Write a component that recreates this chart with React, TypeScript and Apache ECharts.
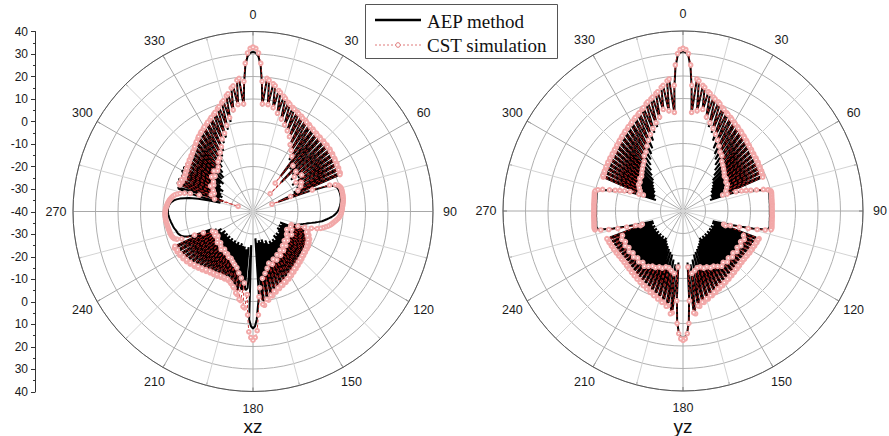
import React, { useEffect, useRef } from 'react';
import * as echarts from 'echarts';

// angle tick labels (degrees, clockwise from top)
const angleLabels = [0, 30, 60, 90, 120, 150, 180, 210, 240, 270, 300, 330];
const chartTitles = ['xz', 'yz'];
const legendNames = ['AEP method', 'CST simulation'];

// values in dB, one value per degree (index = angle 0..359)
const xzAep = [
  31, 30.5, 29, 25, 17, 7, 19, 18.2, 7, 17,
  16.3, 6, 14.6, 13.9, 4, 12.6, 12, 2, 10.6, 10,
  0, 9.1, 8.6, -2, 8.1, 7.6, -4, 7.1, 6.6, -7,
  6.4, 5.9, -9, 5.6, 5.1, -12, 4.9, 4.5, -20, 4.4,
  4, -15, 4.1, 3.7, -22, 3.9, 3.6, -16, 3.8, 3.4,
  -18, 3.6, 3.2, -15, 3.3, 2.9, -19, 2.9, 2.6, -17,
  2.6, 2.2, -18, 2.3, 1.9, -20, 2, 1.5, -24, -28,
  -14, -6, -3, -1.8, -1.2, -0.9, -0.7, -0.6, -0.5, -0.5,
  -0.5, -0.5, -0.6, -0.7, -0.8, -1, -1.2, -1.4, -1.7, -2,
  -2.4, -2.9, -3.5, -4.2, -5, -6, -7, -8, -9, -10.5,
  -12, -13.5, -15, -16, -17, -18, -19, -20, -21, -22,
  -14.5, -15, -27, -13.5, -14, -26, -12.5, -13, -27, -12,
  -12.5, -26, -11.5, -12, -27, -11.3, -11.7, -26, -11, -11.5,
  -25, -10.7, -11.1, -26, -10.3, -10.7, -25, -9.8, -10.3, -26,
  -9.3, -9.8, -24, -8.7, -9.2, -25, -8, -8.5, -24, -7.3,
  -7.8, -25, -6.5, -7, -24, -5.8, -6.3, -26, -5.1, -5.6,
  -25, -4.3, -4.8, -27, -3.3, -3.8, -26, -2, -2.5, -27,
  -0.8, -1.3, -26, 0, -1, -28, -2, 2, 8, 11,
  12, 11, 8, -25, -6, -5, -5.5, -24, -5, -5.5,
  -23, -4.5, -5, -24, -6, -6.5, -24, -7, -7.5, -25,
  -8, -8.5, -24, -8, -8.5, -25, -8, -8.5, -24, -7.8,
  -8.2, -25, -7.5, -8, -24, -7, -7.5, -25, -6.5, -7,
  -24, -5.8, -6.3, -25, -5.2, -5.7, -24, -4.5, -5, -25,
  -3.8, -4.3, -24, -3.2, -3.7, -25, -2.8, -3.3, -23, -2.4,
  -2.9, -24, -2.2, -2.6, -22, -2, -2.4, -20, -12, -9,
  -7.5, -6.5, -6, -5.5, -5.2, -5, -4.8, -4.5, -4.2, -4,
  -3.8, -3.6, -3.4, -3.2, -3, -2.8, -2.6, -2.5, -2.3, -2.2,
  -2.2, -2.2, -2.2, -2.3, -2.5, -2.8, -3.2, -3.8, -4.5, -5.6,
  -7, -9, -11, -15, -20, -25, -10, -5.5, -5, -26,
  -4.5, -4, -24, -4.5, -4, -25, -5, -4.5, -24, -4.5,
  -3.5, -23, -3.8, -3.5, -24, -3.8, -3.5, -22, -3.7, -3.4,
  -21, -3.6, -3.2, -22, -3, -2.6, -20, -2.1, -1.7, -20,
  -1, -0.5, -18, 0.3, 0.8, -16, 1.4, 1.9, -14, 2.5,
  3, -12, 3.6, 4.1, -10, 4.8, 5.4, -7, 6.2, 6.8,
  -5, 8, 8.6, -2, 10, 10.6, 1, 12.3, 13, 5,
  15.3, 16, 7, 18.2, 19, 7, 17, 25, 29, 30.5,
];

const xzCst = [
  33, 32.5, 30.5, 26, 18, 8, 19.5, 18.8, 8, 17.5,
  16.8, 7, 15, 14.3, 5, 13, 12.3, 3, 11, 10.4,
  1, 9.5, 9, -1, 8.5, 8, -3, 7.5, 7, -6,
  6.8, 6.3, -8, 6, 5.5, -10, 5.3, 4.9, -24, 4.8,
  4.4, -13, 4.5, 4.1, -29, 4.3, 4, -14, 4.2, 3.8,
  -16, 4, 3.6, -13, 3.7, 3.3, -17, 3.3, 3, -15,
  3, 2.6, -16, 2.7, 2.3, -18, 2.4, 2, -22, -31,
  -12, -4, -1.5, -0.3, 0.2, 0.5, 0.6, 0.6, 0.6, 0.6,
  0.6, 0.5, 0.5, 0.4, 0.3, 0.1, 0, -0.2, -0.3, -0.4,
  -0.6, -0.8, -1, -1.3, -1.7, -2.2, -2.8, -3.4, -4, -4.6,
  -5.2, -6, -7, -8, -9, -10.5, -13, -16, -19, -22,
  -14, -14.5, -22, -13, -13.5, -21, -12, -12.5, -23, -11.5,
  -12, -20, -11, -11.5, -22, -10.8, -11.2, -21, -10.5, -11,
  -20, -10.2, -10.6, -21, -9.8, -10.2, -19, -9.3, -9.8, -20,
  -8.8, -9.3, -18, -8.2, -8.7, -19, -7.5, -8, -17, -6.8,
  -7.3, -18, -6, -6.5, -16, -5.3, -5.8, -17, -4.6, -5.1,
  -15, -3.8, -4.3, -16, -2.8, -3.3, -14, -1.5, -2, -12,
  0, -0.5, -10, 2, 1.5, -6, -2, 6, 13, 16,
  17.2, 16, 13.5, 6, -3, 3, 2.5, -8, 0, -0.5,
  -10, -2.5, -3, -12, -5, -5.5, -14, -6.5, -7, -15,
  -7.5, -8, -16, -7.5, -8, -17, -7.5, -8, -17, -7.2,
  -7.7, -18, -7, -7.5, -18, -6.7, -7.2, -19, -6.2, -6.7,
  -18, -5.6, -6.1, -19, -5, -5.5, -20, -4.3, -4.8, -19,
  -3.6, -4.1, -20, -3, -3.5, -21, -2.5, -3, -20, -2.1,
  -2.6, -21, -1.8, -2.3, -20, -1.5, -2, -16, -12, -6,
  -4, -3, -2.6, -2.3, -2.1, -2, -1.9, -1.8, -1.7, -1.6,
  -1.5, -1.4, -1.3, -1.2, -1.1, -1, -1, -0.9, -0.9, -0.9,
  -1, -1.1, -1.2, -1.4, -1.6, -1.8, -2, -2.3, -2.6, -3,
  -3.4, -3.9, -4.5, -5.5, -6.6, -8.5, -11, -15, -22, -33,
  -5.5, -5, -20, -5.8, -5.3, -21, -6.1, -5.6, -20, -5.8,
  -5.3, -18, -5.3, -4.8, -19, -4.7, -4.2, -18, -4.1, -3.6,
  -16, -3.5, -3, -17, -2.7, -2.2, -15, -1.7, -1.2, -16,
  -0.5, 0, -15, 0.7, 1.2, -13, 1.8, 2.3, -12, 2.9,
  3.4, -10, 4, 4.5, -8, 5.2, 5.8, -5, 6.6, 7.2,
  -3, 8.4, 9, 0, 10.4, 11, 3, 12.8, 13.5, 6,
  15.8, 16.5, 8, 18.8, 19.5, 8, 18, 26, 30.5, 32.5,
];

const yzAep = [
  31, 30.5, 29, 24, 15, 3, 18.5, 17.8, 4, 16,
  15.3, 5, 13.7, 13.1, 2, 11.9, 11.3, -1, 10.5, 9.9,
  -3, 8.7, 8.2, -6, 7.3, 6.8, -9, 6.2, 5.7, -11,
  5.1, 4.6, -13, 4.2, 3.7, -15, 3.3, 2.9, -17, 2.5,
  2.1, -19, 1.7, 1.3, -21, 1, 0.6, -22, 0.4, 0,
  -23, -0.1, -0.5, -24, -0.4, -0.8, -25, -0.7, -1.1, -25,
  -1, -1.4, -26, -1.3, -1.7, -26, -1.6, -2, -27, -22,
  -17, -14, -11.5, -9.5, -7, -4, -2, -1, -0.8, -0.9,
  -1, -1.1, -1.2, -1.2, -1.3, -1.3, -1.3, -1.4, -1.4, -1.4,
  -1.4, -1.4, -1.4, -1.3, -1.3, -1.3, -1.2, -1.2, -1.1, -1,
  -0.9, -0.9, -1.5, -4, -8, -13, -17, -21, -24, -26,
  -5.5, -5.8, -26, -5.8, -6.1, -25, -6.1, -6.4, -26, -6.3,
  -6.6, -25, -6.5, -6.8, -26, -6.7, -7, -25, -6.8, -7.1,
  -26, -6.8, -7.1, -25, -6.6, -6.9, -26, -6.3, -6.6, -25,
  -5.9, -6.2, -26, -5.5, -5.8, -25, -5, -5.3, -26, -4.5,
  -4.8, -25, -3.9, -4.2, -24, -3.3, -3.6, -23, -2.5, -2.8,
  -22, -1.7, -2, -21, -0.8, -1.1, -20, 0.2, -0.1, -18,
  1.5, 1.2, -16, 4.5, 4, -17, -1, 9.5, 14, 16,
  16.5, 16, 14, 9.5, -1, -17, 4, 4.5, -16, 1.2,
  1.5, -18, -0.1, 0.2, -20, -1.1, -0.8, -21, -2, -1.7,
  -22, -2.8, -2.5, -23, -3.6, -3.3, -24, -4.2, -3.9, -25,
  -4.8, -4.5, -26, -5.3, -5, -25, -5.8, -5.5, -26, -6.2,
  -5.9, -25, -6.6, -6.3, -26, -6.9, -6.6, -25, -7.1, -6.8,
  -26, -7.1, -6.8, -25, -7, -6.7, -26, -6.8, -6.5, -25,
  -6.6, -6.3, -26, -6.4, -6.1, -25, -6.1, -5.8, -26, -5.8,
  -5.5, -26, -24, -21, -17, -13, -8, -4, -1.5, -0.9,
  -0.9, -1, -1.1, -1.2, -1.2, -1.3, -1.3, -1.3, -1.4, -1.4,
  -1.4, -1.4, -1.4, -1.4, -1.3, -1.3, -1.3, -1.2, -1.2, -1.1,
  -1, -0.9, -0.8, -1, -2, -4, -7, -9.5, -11.5, -14,
  -17, -22, -27, -2, -1.6, -26, -1.7, -1.3, -26, -1.4,
  -1, -25, -1.1, -0.7, -25, -0.8, -0.4, -24, -0.5, -0.1,
  -23, 0, 0.4, -22, 0.6, 1, -21, 1.3, 1.7, -19,
  2.1, 2.5, -17, 2.9, 3.3, -15, 3.7, 4.2, -13, 4.6,
  5.1, -11, 5.7, 6.2, -9, 6.8, 7.3, -6, 8.2, 8.7,
  -3, 9.9, 10.5, -1, 11.3, 11.9, 2, 13.1, 13.7, 5,
  15.3, 16, 4, 17.8, 18.5, 3, 15, 24, 29, 30.5,
];

const yzCst = [
  32.3, 31.8, 30, 25, 16, 4, 19, 18.3, 5, 16.5,
  15.8, 6, 14.2, 13.6, 3, 12.4, 11.8, 1, 11, 10.4,
  -1, 9.2, 8.7, -3, 7.8, 7.3, -5, 6.7, 6.2, -7,
  5.6, 5.1, -9, 4.7, 4.2, -10, 3.8, 3.4, -12, 3,
  2.6, -13, 2.2, 1.8, -14, 1.5, 1.1, -15, 0.9, 0.5,
  -16, 0.4, 0, -16, 0.1, -0.3, -17, -0.2, -0.6, -17,
  -0.5, -0.9, -18, -0.8, -1.2, -19, -1.1, -1.5, -21, -19,
  -15, -12.5, -10.5, -8.5, -6, -3, -1, 0, 0.2, 0.1,
  0, -0.1, -0.2, -0.2, -0.3, -0.3, -0.3, -0.4, -0.4, -0.4,
  -0.4, -0.4, -0.4, -0.3, -0.3, -0.3, -0.2, -0.2, -0.1, 0,
  0.1, 0.2, 0, -2.5, -6, -10, -14, -18, -21, -20,
  -4, -4.3, -11, -4.3, -4.6, -10, -4.6, -4.9, -11, -4.8,
  -5.1, -10, -5, -5.3, -11, -5.2, -5.5, -10, -5.3, -5.6,
  -11, -5.3, -5.6, -10, -5.1, -5.4, -11, -4.8, -5.1, -10,
  -4.4, -4.7, -11, -4, -4.3, -10, -3.5, -3.8, -11, -3,
  -3.3, -12, -2.4, -2.7, -12, -1.8, -2.1, -13, -1, -1.3,
  -13, -0.2, -0.5, -14, 0.7, 0.4, -14, 1.7, 1.4, -13,
  3, 2.7, -12, 6, 5.5, -15, 0, 10, 14.5, 16.8,
  17.5, 16.8, 14.5, 10, 0, -15, 5.5, 6, -12, 2.7,
  3, -13, 1.4, 1.7, -14, 0.4, 0.7, -14, -0.5, -0.2,
  -13, -1.3, -1, -13, -2.1, -1.8, -12, -2.7, -2.4, -12,
  -3.3, -3, -11, -3.8, -3.5, -10, -4.3, -4, -11, -4.7,
  -4.4, -10, -5.1, -4.8, -11, -5.4, -5.1, -10, -5.6, -5.3,
  -11, -5.6, -5.3, -10, -5.5, -5.2, -11, -5.3, -5, -10,
  -5.1, -4.8, -11, -4.9, -4.6, -10, -4.6, -4.3, -11, -4.3,
  -4, -20, -21, -18, -14, -10, -6, -2.5, 0, 0.2,
  0.1, 0, -0.1, -0.2, -0.2, -0.3, -0.3, -0.3, -0.4, -0.4,
  -0.4, -0.4, -0.4, -0.4, -0.3, -0.3, -0.3, -0.2, -0.2, -0.1,
  0, 0.1, 0.2, 0, -1, -3, -6, -8.5, -10.5, -12.5,
  -15, -19, -21, -1.5, -1.1, -19, -1.2, -0.8, -18, -0.9,
  -0.5, -17, -0.6, -0.2, -17, -0.3, 0.1, -16, 0, 0.4,
  -16, 0.5, 0.9, -15, 1.1, 1.5, -14, 1.8, 2.2, -13,
  2.6, 3, -12, 3.4, 3.8, -10, 4.2, 4.7, -9, 5.1,
  5.6, -7, 6.2, 6.7, -5, 7.3, 7.8, -3, 8.7, 9.2,
  -1, 10.4, 11, 1, 11.8, 12.4, 3, 13.6, 14.2, 6,
  15.8, 16.5, 5, 18.3, 19, 4, 16, 25, 30, 31.8,
];

const toPolar = (values: number[]) => {
  const pts = values.map((v, i) => [v, i]);
  pts.push([values[0], 360]);
  return pts;
};

export default function App() {
  const ref = useRef<HTMLDivElement>(null);

  useEffect(() => {
    document.body.style.margin = '0';
    const chart = echarts.init(ref.current!, null, { renderer: 'svg' });
    const centers: [number, number][] = [[253, 211.5], [683, 211]];
    const R = 180;
    const labelR = 197;
    const sans = 'Liberation Sans, Arial, sans-serif';
    const serif = 'Liberation Serif, Times New Roman, serif';
    const cstLine = '#c42222';
    const cstMark = '#f2a8a8';

    const graphics: any[] = [];
    centers.forEach(([cx, cy], ci) => {
      angleLabels.forEach((a) => {
        const rad = (a * Math.PI) / 180;
        graphics.push({
          type: 'text',
          x: cx + labelR * Math.sin(rad),
          y: cy - labelR * Math.cos(rad),
          style: {
            text: String(a),
            fontSize: 12.5,
            fontFamily: sans,
            fill: '#1a1a1a',
            align: 'center',
            verticalAlign: 'middle',
          },
        });
      });
      graphics.push({
        type: 'text',
        x: cx,
        y: 426,
        style: {
          text: chartTitles[ci],
          fontSize: 19,
          fontFamily: sans,
          fill: '#111',
          align: 'center',
          verticalAlign: 'middle',
        },
      });
    });

    // legend box drawn by hand
    graphics.push(
      { type: 'rect', shape: { x: 365.5, y: 4.5, width: 192, height: 54 }, style: { fill: '#fff', stroke: '#555', lineWidth: 1 }, z: 10 },
      { type: 'line', shape: { x1: 375, y1: 20, x2: 421, y2: 20 }, style: { stroke: '#000', lineWidth: 2.6 }, z: 11 },
      { type: 'text', x: 427, y: 21, style: { text: legendNames[0], fontSize: 19, fontFamily: serif, fill: '#111', align: 'left', verticalAlign: 'middle' }, z: 11 },
      { type: 'line', shape: { x1: 375, y1: 45, x2: 421, y2: 45 }, style: { stroke: '#e07a7a', lineWidth: 1, lineDash: [2, 2] }, z: 11 },
      { type: 'circle', shape: { cx: 398, cy: 45, r: 2.3 }, style: { stroke: '#e07a7a', fill: '#fff', lineWidth: 1 }, z: 12 },
      { type: 'text', x: 427, y: 45.5, style: { text: legendNames[1], fontSize: 19, fontFamily: serif, fill: '#111', align: 'left', verticalAlign: 'middle' }, z: 11 },
    );

    const aepSeries = (data: number[], idx: number) => ({
      name: legendNames[0],
      type: 'line',
      coordinateSystem: 'polar',
      polarIndex: idx,
      data: toPolar(data),
      symbol: 'none',
      lineStyle: { color: '#000', width: 2 },
      itemStyle: { color: '#000' },
      z: 2,
      silent: true,
    });
    const cstSeries = (data: number[], idx: number) => ({
      name: legendNames[1],
      type: 'line',
      coordinateSystem: 'polar',
      polarIndex: idx,
      data: toPolar(data),
      symbol: 'emptyCircle',
      symbolSize: 3.6,
      showAllSymbol: true,
      lineStyle: { color: cstLine, width: 0.9, type: [3, 2] },
      itemStyle: { color: cstMark, borderWidth: 0.8 },
      z: 3,
      silent: true,
    });

    chart.setOption({
      animation: false,
      backgroundColor: '#fff',
      graphic: graphics,
      grid: { left: 35, top: 31.5, width: 1, height: 360.5 },
      xAxis: { type: 'value', show: false, min: 0, max: 1 },
      yAxis: {
        type: 'value',
        min: 0,
        max: 160,
        interval: 10,
        axisLine: { show: true, lineStyle: { color: '#333' } },
        axisTick: { show: true, length: 4, lineStyle: { color: '#333' } },
        minorTick: { show: true, splitNumber: 2, length: 2, lineStyle: { color: '#333' } },
        splitLine: { show: false },
        axisLabel: {
          formatter: (v: number) => String(Math.abs(v - 80) - 40),
          fontSize: 12,
          color: '#1a1a1a',
          fontFamily: sans,
          margin: 7,
        },
      },
      polar: centers.map((c) => ({ center: c, radius: R })),
      angleAxis: centers.map((_, i) => ({
        polarIndex: i,
        type: 'value',
        min: 0,
        max: 360,
        interval: 30,
        startAngle: 90,
        clockwise: true,
        axisLine: { show: true, lineStyle: { color: '#555', width: 1 } },
        axisTick: { show: true, inside: true, length: 4, lineStyle: { color: '#555' } },
        minorTick: { show: true, splitNumber: 2, length: 3, lineStyle: { color: '#777' } },
        axisLabel: { show: false },
        splitLine: { show: true, lineStyle: { color: '#a8a8a8', width: 1 } },
        minorSplitLine: { show: true, lineStyle: { color: '#d4d4d4', width: 1 } },
      })),
      radiusAxis: centers.map((_, i) => ({
        polarIndex: i,
        type: 'value',
        min: -40,
        max: 40,
        interval: 10,
        axisLine: { show: false },
        axisTick: { show: false },
        axisLabel: { show: false },
        splitLine: { show: true, lineStyle: { color: '#b0b0b0', width: 1 } },
      })),
      series: [aepSeries(xzAep, 0), cstSeries(xzCst, 0), aepSeries(yzAep, 1), cstSeries(yzCst, 1)],
    });

    return () => chart.dispose();
  }, []);

  return (
    <div
      ref={ref}
      style={{ position: 'fixed', left: 0, top: 0, width: 889, height: 436, background: '#fff' }}
    />
  );
}
